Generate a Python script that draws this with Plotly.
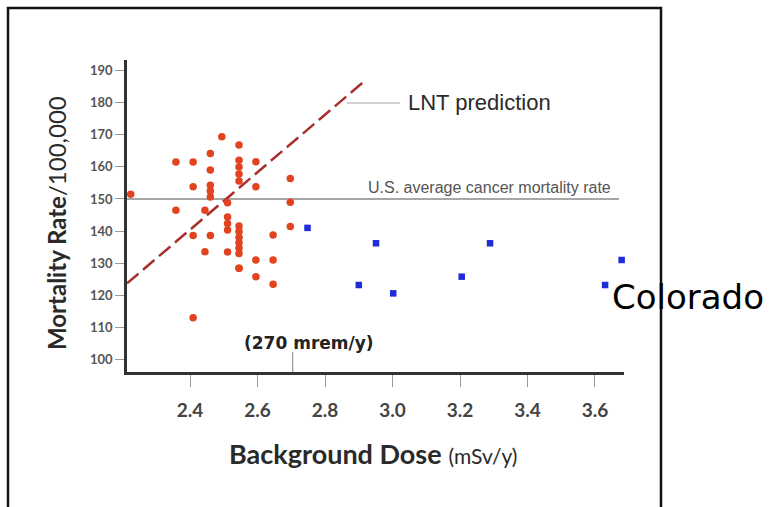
import plotly.graph_objects as go

# ---------------- data ----------------
red_x = [2.224,
         2.358, 2.358,
         2.409, 2.409, 2.409, 2.409,
         2.444, 2.444,
         2.460, 2.460, 2.460, 2.460, 2.460, 2.460,
         2.494,
         2.511, 2.511, 2.511, 2.511, 2.511,
         2.545, 2.545, 2.545, 2.545, 2.545, 2.545, 2.545, 2.545, 2.545, 2.545, 2.545, 2.545, 2.545,
         2.595, 2.595, 2.595, 2.595,
         2.646, 2.646, 2.646,
         2.697, 2.697, 2.697]
red_y = [151.5,
         161.5, 146.5,
         161.5, 153.8, 138.6, 113.0,
         146.5, 133.6,
         164.2, 159.0, 154.3, 152.5, 150.6, 138.6,
         169.4,
         148.8, 144.4, 142.4, 140.3, 133.5,
         166.8, 162.1, 160.0, 157.8, 155.6, 141.6, 139.9, 138.1, 136.4, 134.7, 133.0, 128.4, 128.4,
         161.6, 153.8, 131.0, 125.8,
         138.8, 131.0, 123.4,
         156.4, 149.0, 141.4]
blue_x = [2.748, 2.900, 2.951, 3.002, 3.205, 3.289, 3.630, 3.679]
blue_y = [141.0, 123.2, 136.2, 120.6, 125.8, 136.2, 123.2, 131.0]

lnt_x = [2.213, 2.923]
lnt_y = [123.7, 187.3]

us_average = 150
marker_dose = 2.704          # 270 mrem/y

x_range = [2.213, 3.686]
y_range = [96.1, 193.3]
x_tickvals = [2.4, 2.6, 2.8, 3.0, 3.2, 3.4, 3.6]
x_ticktext = ["2.4", "2.6", "2.8", "3.0", "3.2", "3.4", "3.6"]
y_tickvals = [100, 110, 120, 130, 140, 150, 160, 170, 180, 190]
y_ticktext = [str(v) for v in y_tickvals]

# ---------------- layout geometry (pixels) ----------------
W, H = 774, 507
PL, PR, PT, PB = 127, 624, 60, 372


def fx(px):
    return (px - PL) / (PR - PL)


def fy(py):
    return (PB - py) / (PB - PT)


RED = "#e2431f"
BLUE = "#1f2bd6"
DARKRED = "#a8302c"
FONT = "Lato"

fig = go.Figure()

fig.add_trace(go.Scatter(
    x=lnt_x, y=lnt_y, mode="lines",
    line=dict(color=DARKRED, width=2.5, dash="15px,6px"),
    hoverinfo="skip", showlegend=False))

fig.add_trace(go.Scatter(
    x=red_x, y=red_y, mode="markers", cliponaxis=False,
    marker=dict(color=RED, size=7.5, symbol="circle", line=dict(width=0)),
    showlegend=False))

fig.add_trace(go.Scatter(
    x=blue_x, y=blue_y, mode="markers", cliponaxis=False,
    marker=dict(color=BLUE, size=6.5, symbol="square", line=dict(width=0)),
    showlegend=False))

shapes = [
    # US average line
    dict(type="line", xref="paper", yref="y", x0=0, x1=fx(619),
         y0=us_average, y1=us_average, line=dict(color="#8a8a8a", width=1.6), layer="below"),
    # 270 mrem/y inner tick
    dict(type="line", xref="x", yref="paper", x0=marker_dose, x1=marker_dose,
         y0=0, y1=fy(352), line=dict(color="#999999", width=1.2)),
    # LNT pointer line
    dict(type="line", xref="paper", yref="paper", x0=fx(347), x1=fx(400),
         y0=fy(103), y1=fy(103), line=dict(color="#a0a0a0", width=1)),
    # outer frame
    dict(type="rect", xref="paper", yref="paper", x0=fx(8), x1=fx(661),
         y0=fy(530), y1=fy(8), line=dict(color="#111111", width=2.5)),
]

annotations = [
    dict(text="LNT prediction", xref="paper", yref="paper", x=fx(406), y=fy(103),
         xanchor="left", yanchor="middle", showarrow=False,
         font=dict(family="Liberation Sans", size=22, color="#2a2a2a")),
    dict(text="U.S. average cancer mortality rate", xref="paper", yref="paper",
         x=fx(613), y=fy(187), xanchor="right", yanchor="middle", showarrow=False,
         font=dict(family="Liberation Sans", size=16, color="#555555")),
    dict(text="(270 mrem/y)", xref="paper", yref="paper", x=fx(309), y=fy(343),
         xanchor="center", yanchor="middle", showarrow=False,
         font=dict(family="DejaVu Sans", size=17, color="#222222", weight="bold")),
    dict(text="<b>Background Dose</b> <span style='font-size:21px'>(mSv/y)</span>",
         xref="paper", yref="paper", x=fx(373), y=fy(453), xanchor="center", yanchor="middle",
         showarrow=False, font=dict(family=FONT, size=27, color="#2a2a2a")),
    dict(text="<b>Mortality Rate</b>/100,000", xref="paper", yref="paper",
         x=fx(57), y=fy(223), xanchor="center", yanchor="middle", textangle=-90,
         showarrow=False, font=dict(family=FONT, size=24, color="#2a2a2a")),
    dict(text="Colorado", xref="paper", yref="paper", x=fx(610), y=fy(297),
         xanchor="left", yanchor="middle", showarrow=False,
         font=dict(family="DejaVu Sans", size=34, color="#000000")),
]

fig.update_layout(
    width=W, height=H,
    margin=dict(l=PL, r=W - PR, t=PT, b=H - PB, pad=0),
    paper_bgcolor="white", plot_bgcolor="white",
    shapes=shapes, annotations=annotations,
    showlegend=False,
)

fig.update_xaxes(
    range=x_range, tickvals=x_tickvals, ticktext=x_ticktext,
    showgrid=False, zeroline=False,
    showline=True, linecolor="#333333", linewidth=2.5,
    ticks="outside", ticklen=12, tickwidth=1.4, tickcolor="#9a9a9a",
    ticklabelstandoff=7,
    tickfont=dict(family=FONT, size=19, color="#444444", weight="bold"),
)
fig.update_yaxes(
    range=y_range, tickvals=y_tickvals, ticktext=y_ticktext,
    showgrid=False, zeroline=False,
    showline=True, linecolor="#333333", linewidth=2.5,
    ticks="outside", ticklen=9, tickwidth=1.2, tickcolor="#9a9a9a",
    tickfont=dict(family=FONT, size=13, color="#555555", weight="bold"),
)

fig.write_html("out.html")
